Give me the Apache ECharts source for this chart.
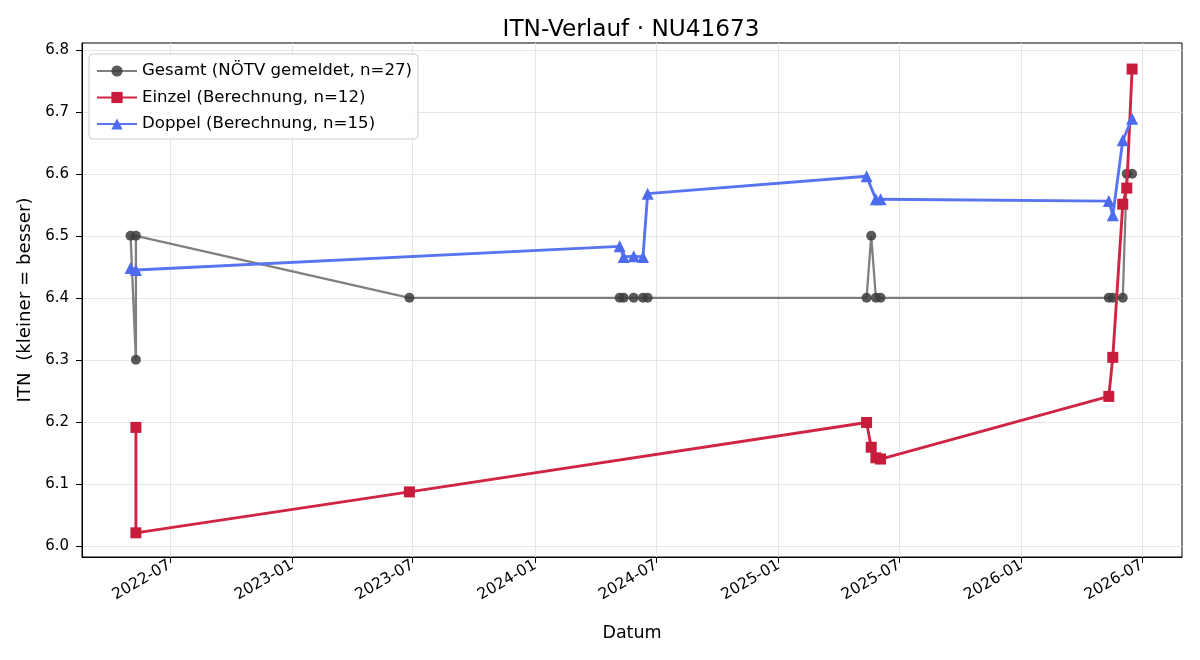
<!DOCTYPE html>
<html>
<head>
<meta charset="utf-8">
<script src="https://cdn.jsdelivr.net/npm/echarts@6/dist/echarts.min.js"></script>
<style>
  html, body { margin: 0; padding: 0; background: #fff; }
  #chart { width: 1200px; height: 660px; }
</style>
</head>
<body>
<div id="chart"></div>
<script>
const FONT = 'DejaVu Sans';

// Gesamt (NÖTV gemeldet)
const gesamtDates = ['2022-05-03', '2022-05-11', '2022-05-11', '2023-06-26', '2024-05-07', '2024-05-13', '2024-05-28', '2024-06-11', '2024-06-18',
    '2025-05-13', '2025-05-20', '2025-05-27', '2025-06-03', '2026-05-12', '2026-05-18', '2026-06-02', '2026-06-08', '2026-06-16'];
const gesamtValues = [6.5, 6.3, 6.5, 6.4, 6.4, 6.4, 6.4, 6.4, 6.4,
    6.4, 6.5, 6.4, 6.4, 6.4, 6.4, 6.4, 6.6, 6.6];

// Einzel (Berechnung)
const einzelDates = ['2022-05-11', '2022-05-11', '2023-06-26', '2025-05-13', '2025-05-20', '2025-05-27', '2025-06-03',
    '2026-05-12', '2026-05-18', '2026-06-02', '2026-06-08', '2026-06-16'];
const einzelValues = [6.191, 6.021, 6.087, 6.199, 6.159, 6.142, 6.140, 6.241, 6.304, 6.551, 6.577, 6.769];

// Doppel (Berechnung)
const doppelDates = ['2022-05-03', '2022-05-11', '2024-05-07', '2024-05-13', '2024-05-28', '2024-06-11', '2024-06-18',
    '2025-05-13', '2025-05-27', '2025-06-03', '2026-05-12', '2026-05-18', '2026-06-02', '2026-06-16'];
const doppelValues = [6.448, 6.445, 6.483, 6.466, 6.467, 6.466, 6.568, 6.596, 6.559, 6.559, 6.556, 6.533, 6.654, 6.689];

const xTicks = ['2022-07-01', '2023-01-01', '2023-07-01', '2024-01-01', '2024-07-01', '2025-01-01', '2025-07-01', '2026-01-01', '2026-07-01'];
const yTicks = [6.0, 6.1, 6.2, 6.3, 6.4, 6.5, 6.6, 6.7, 6.8];

function ts(s) {
    const [y, m, d] = s.split('-').map(Number);
    return Date.UTC(y, m - 1, d);
}
function fmtMonth(v) {
    const dt = new Date(v);
    return dt.getUTCFullYear() + '-' + String(dt.getUTCMonth() + 1).padStart(2, '0');
}
const pairs = (dates, vals) => dates.map((d, i) => [ts(d), vals[i]]);

const chart = echarts.init(document.getElementById('chart'));

const gridLine = { show: true, lineStyle: { color: '#e6e6e6', width: 1 } };

chart.setOption({
    animation: false,
    backgroundColor: '#fff',
    textStyle: { fontFamily: FONT },
    title: {
        text: 'ITN-Verlauf · NU41673',
        left: 626, top: 13, textAlign: 'center',
        textStyle: { fontFamily: FONT, fontSize: 23.2, fontWeight: 'normal', color: '#000' }
    },
    grid: { left: 82, right: 18, top: 43, bottom: 103, show: true, borderColor: '#000', borderWidth: 1, backgroundColor: 'transparent' },
    legend: {
        orient: 'vertical', left: 89, top: 54,
        padding: [7, 6, 5, 7], itemGap: 6.5,
        itemWidth: 40, itemHeight: 14,
        backgroundColor: 'rgba(255,255,255,0.85)', borderColor: '#cccccc', borderWidth: 1, borderRadius: 4,
        textStyle: { fontFamily: FONT, fontSize: 16.6, color: '#000', lineHeight: 20 },
        data: ['Gesamt (NÖTV gemeldet, n=27)', 'Einzel (Berechnung, n=12)', 'Doppel (Berechnung, n=15)']
    },
    xAxis: {
        type: 'value',
        min: ts('2022-02-19'), max: ts('2026-08-30'),
        name: 'Datum', nameLocation: 'middle', nameGap: 67,
        nameTextStyle: { fontFamily: FONT, fontSize: 17.5, color: '#000' },
        axisLine: { lineStyle: { color: '#000', width: 1 } },
        axisTick: { show: true, length: 6, lineStyle: { color: '#000' }, customValues: xTicks.map(ts) },
        axisLabel: {
            rotate: 30, margin: 7, fontFamily: FONT, fontSize: 15.5, color: '#000',
            customValues: xTicks.map(ts),
            formatter: fmtMonth
        },
        splitLine: gridLine
    },
    yAxis: {
        type: 'value',
        min: 5.982, max: 6.811,
        name: 'ITN  (kleiner = besser)', nameLocation: 'middle', nameGap: 47,
        nameTextStyle: { fontFamily: FONT, fontSize: 18.2, color: '#000' },
        axisLine: { show: true, lineStyle: { color: '#000', width: 1 } },
        axisTick: { show: true, length: 6, lineStyle: { color: '#000' }, customValues: yTicks },
        axisLabel: {
            margin: 13, fontFamily: FONT, fontSize: 15, color: '#000',
            customValues: yTicks,
            formatter: v => v.toFixed(1)
        },
        splitLine: gridLine
    },
    series: [
        {
            name: 'Gesamt (NÖTV gemeldet, n=27)', type: 'line',
            data: pairs(gesamtDates, gesamtValues),
            symbol: 'circle', symbolSize: 10,
            lineStyle: { color: 'rgba(85,85,85,0.75)', width: 2.3 },
            itemStyle: { color: 'rgba(60,60,60,0.85)' },
            z: 2
        },
        {
            name: 'Einzel (Berechnung, n=12)', type: 'line',
            data: pairs(einzelDates, einzelValues),
            symbol: 'rect', symbolSize: 11,
            lineStyle: { color: '#cf2443', width: 2.9 },
            itemStyle: { color: '#c91c3d' },
            z: 3
        },
        {
            name: 'Doppel (Berechnung, n=15)', type: 'line',
            data: pairs(doppelDates, doppelValues),
            symbol: 'triangle', symbolSize: 12,
            lineStyle: { color: '#5874f0', width: 2.9 },
            itemStyle: { color: '#4d6bef' },
            z: 4
        }
    ]
});
</script>
</body>
</html>
